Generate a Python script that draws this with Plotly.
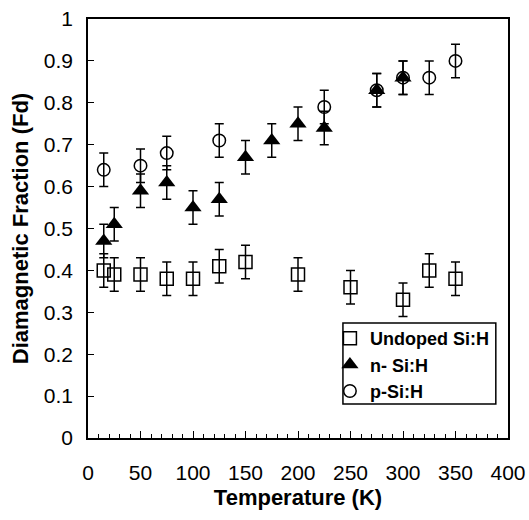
import plotly.graph_objects as go

# temperature (K) and diamagnetic fraction for each sample
t_undoped = [15, 25, 50, 75, 100, 125, 150, 200, 250, 300, 325, 350]
fd_undoped = [0.40, 0.39, 0.39, 0.38, 0.38, 0.41, 0.42, 0.39, 0.36, 0.33, 0.40, 0.38]

t_n = [15, 25, 50, 75, 100, 125, 150, 175, 200, 225, 275, 300]
fd_n = [0.47, 0.51, 0.59, 0.61, 0.55, 0.57, 0.67, 0.71, 0.75, 0.74, 0.83, 0.86]

t_p = [15, 50, 75, 125, 225, 275, 300, 325, 350]
fd_p = [0.64, 0.65, 0.68, 0.71, 0.79, 0.83, 0.86, 0.86, 0.90]

err = 0.04

font = "Liberation Sans, Arial, sans-serif"


def errbar():
    return dict(type="constant", value=err, color="black", thickness=1.5, width=4.5)


fig = go.Figure()
fig.add_trace(go.Scatter(x=t_undoped, y=fd_undoped, mode="markers",
                         name="<b>Undoped Si:H</b>", error_y=errbar(),
                         marker=dict(symbol="square-open", size=13, color="black",
                                     line=dict(width=1.5))))
fig.add_trace(go.Scatter(x=t_n, y=fd_n, mode="markers",
                         name="<b>n- Si:H</b>", error_y=errbar(),
                         marker=dict(symbol="triangle-up", size=15, color="black")))
fig.add_trace(go.Scatter(x=t_p, y=fd_p, mode="markers",
                         name="<b>p-Si:H</b>", error_y=errbar(),
                         marker=dict(symbol="circle-open", size=12.5, color="black",
                                     line=dict(width=1.5))))

fig.update_xaxes(
    range=[0, 400], tickvals=[0, 50, 100, 150, 200, 250, 300, 350, 400],
    ticks="inside", ticklen=7, tickwidth=1.2, tickcolor="black",
    minor=dict(dtick=10, ticks="inside", ticklen=4, tickcolor="black", tickwidth=1),
    showline=True, linecolor="black", linewidth=1.5, mirror=True,
    showgrid=False, zeroline=False, ticklabelstandoff=15, automargin=False,
    ticklabeloverflow="allow",
    tickfont=dict(family=font, size=21, color="black"),
    title=dict(text="<b>Temperature (K)</b>", font=dict(family=font, size=22, color="black"),
               standoff=7),
)
fig.update_yaxes(
    range=[0, 1], tickvals=[0, 0.1, 0.2, 0.3, 0.4, 0.5, 0.6, 0.7, 0.8, 0.9, 1],
    ticktext=["0", "0.1", "0.2", "0.3", "0.4", "0.5", "0.6", "0.7", "0.8", "0.9", "1"],
    ticks="inside", ticklen=6, tickwidth=1.2, tickcolor="black",
    showline=True, linecolor="black", linewidth=1.5, mirror=True,
    showgrid=False, zeroline=False, ticklabelstandoff=9, automargin=False,
    ticklabeloverflow="allow",
    tickfont=dict(family=font, size=21, color="black"),
    title=dict(text="<b>Diamagnetic Fraction (Fd)</b>", font=dict(family=font, size=22, color="black"),
               standoff=9),
)

# legend frame drawn as a box so it sits tight round the entries
fig.add_shape(type="rect", xref="paper", yref="paper",
              x0=0.607, x1=0.971, y0=0.081, y1=0.2745,
              line=dict(color="black", width=1.5), fillcolor="white", layer="above")

fig.update_layout(
    width=529, height=520, autosize=False,
    margin=dict(l=88, r=21, t=19, b=82),
    plot_bgcolor="white", paper_bgcolor="white",
    showlegend=True,
    legend=dict(x=0.576, y=0.2816, xanchor="left", yanchor="top",
                bgcolor="rgba(0,0,0,0)", borderwidth=0,
                font=dict(family=font, size=18, color="black"),
                itemwidth=30, tracegroupgap=0),
)

# drop the browser's default page margin so the figure fills the window
fig.write_html("out.html", config={"displayModeBar": False},
               post_script="document.body.style.margin='0';")
